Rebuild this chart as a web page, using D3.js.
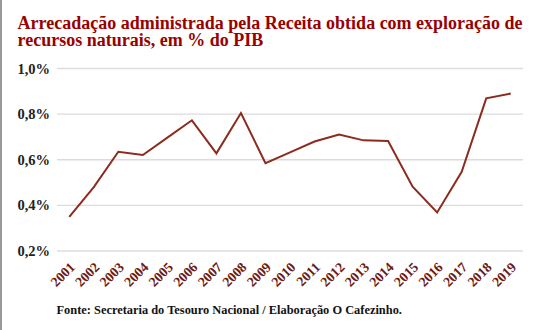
<!DOCTYPE html>
<html>
<head>
<meta charset="utf-8">
<script src="https://cdn.jsdelivr.net/npm/d3@7"></script>
<style>
  html, body { margin: 0; padding: 0; background: #fff; }
  svg { display: block; }
  svg text { font-family: "Liberation Serif", "Times New Roman", Times, serif; font-weight: 700; }
</style>
</head>
<body>
<svg id="chart" width="534" height="330"></svg>
<script>
const years = ["2001","2002","2003","2004","2005","2006","2007","2008","2009","2010",
               "2011","2012","2013","2014","2015","2016","2017","2018","2019"];
const values = [0.35, 0.48, 0.635, 0.621, 0.697, 0.773, 0.628, 0.805, 0.585, 0.632,
                0.68, 0.711, 0.685, 0.682, 0.482, 0.369, 0.547, 0.869, 0.89];
const yTicks = [0.2, 0.4, 0.6, 0.8, 1.0];
const titleLines = ["Arrecadação administrada pela Receita obtida com exploração de",
                    "recursos naturais, em % do PIB"];
const sourceText = "Fonte: Secretaria do Tesouro Nacional / Elaboração O Cafezinho.";

const svg = d3.select("#chart");

// left border
svg.append("line").attr("x1", 1).attr("x2", 1).attr("y1", 0).attr("y2", 330)
  .attr("stroke", "#9a9a9a").attr("stroke-width", 2);

const x = d3.scalePoint().domain(years).range([57, 523]).padding(0.5);
const y = d3.scaleLinear().domain([0.2, 1.0]).range([251, 68.5]);

// title
svg.append("text")
  .style("font-size", "18px")
  .attr("fill", "#990000")
  .selectAll("tspan").data(titleLines).join("tspan")
  .attr("x", 17.5).attr("y", (d, i) => 29 + i * 17)
  .text(d => d);

// grid
svg.append("g").selectAll("line").data(yTicks).join("line")
  .attr("x1", 57).attr("x2", 523)
  .attr("y1", d => y(d)).attr("y2", d => y(d))
  .attr("stroke", "#dcdcdc").attr("stroke-width", 1.3);

// y axis labels
const fmt = d => d.toFixed(1).replace(".", ",") + "%";
svg.append("g").selectAll("text").data(yTicks).join("text")
  .attr("x", 50).attr("y", d => y(d)).attr("dy", "0.35em")
  .attr("text-anchor", "end")
  .style("font-size", "14.5px")
  .attr("fill", "#222")
  .text(fmt);

// x labels
svg.append("g").selectAll("text").data(years).join("text")
  .attr("transform", d => `translate(${x(d) + 6.5},${268}) rotate(-45)`)
  .attr("text-anchor", "end")
  .style("font-size", "13.8px")
  .attr("fill", "#6e1a12")
  .text(d => d);

// line
const line = d3.line().x((d, i) => x(years[i])).y(d => y(d));
svg.append("path").datum(values)
  .attr("d", line)
  .attr("fill", "none")
  .attr("stroke", "#8b2c1e")
  .attr("stroke-width", 2)
  .attr("stroke-linejoin", "miter");

// source
svg.append("text")
  .attr("x", 56.5).attr("y", 314)
  .style("font-size", "12.4px")
  .attr("fill", "#111")
  .text(sourceText);
</script>
</body>
</html>
